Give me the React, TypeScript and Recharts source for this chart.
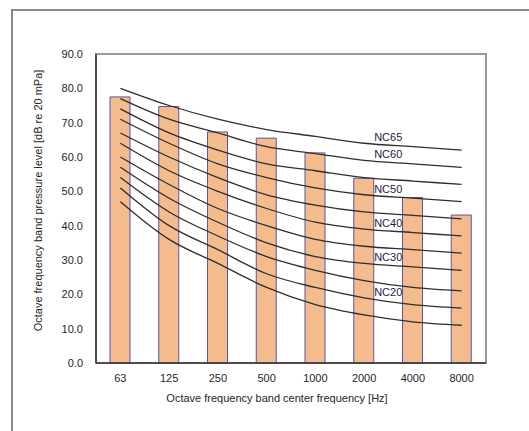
import React from 'react';
import { ComposedChart, Bar, Line, XAxis, YAxis, Label, LabelList, ReferenceArea } from 'recharts';

const frequencies = ['63', '125', '250', '500', '1000', '2000', '4000', '8000'];
const measured = [77.5, 74.7, 67.3, 65.5, 61.2, 53.8, 48.2, 43.1];

// NC curves (dB per octave band)
const nc15 = [47, 36, 29, 22, 17, 14, 12, 11];
const nc20 = [51, 40, 33, 26, 22, 19, 17, 16];
const nc25 = [54, 44, 37, 31, 27, 24, 22, 21];
const nc30 = [57, 48, 41, 35, 31, 29, 28, 27];
const nc35 = [60, 52, 45, 40, 36, 34, 33, 32];
const nc40 = [64, 56, 50, 45, 41, 39, 38, 37];
const nc45 = [67, 60, 54, 49, 46, 44, 43, 42];
const nc50 = [71, 64, 58, 54, 51, 49, 48, 47];
const nc55 = [74, 67, 62, 58, 56, 54, 53, 52];
const nc60 = [77, 71, 67, 63, 61, 59, 58, 57];
const nc65 = [80, 75, 71, 68, 66, 64, 63, 62];

const yTicks = [0, 10, 20, 30, 40, 50, 60, 70, 80, 90];

const curves = [
  { key: 'NC15', values: nc15, labeled: false },
  { key: 'NC20', values: nc20, labeled: true },
  { key: 'NC25', values: nc25, labeled: false },
  { key: 'NC30', values: nc30, labeled: true },
  { key: 'NC35', values: nc35, labeled: false },
  { key: 'NC40', values: nc40, labeled: true },
  { key: 'NC45', values: nc45, labeled: false },
  { key: 'NC50', values: nc50, labeled: true },
  { key: 'NC55', values: nc55, labeled: false },
  { key: 'NC60', values: nc60, labeled: true },
  { key: 'NC65', values: nc65, labeled: true },
];

const data = frequencies.map((f, i) => {
  const row: Record<string, string | number> = { freq: f, level: measured[i] };
  curves.forEach((c) => {
    row[c.key] = c.values[i];
  });
  return row;
});

const FONT = '"Liberation Sans", Arial, sans-serif';
const LABEL_INDEX = 5; // NC labels sit just right of the 2000 Hz band

const App: React.FC = () => {
  return (
    <div style={{
      position: 'absolute',
      left: 0,
      top: 0,
      width: 529,
      height: 431,
      overflow: 'hidden',
      background: '#ffffff',
      fontFamily: FONT
    }}>
      <div style={{
        position: 'absolute',
        left: 11,
        top: 9,
        width: 600,
        height: 500,
        borderTop: '2px solid #8a8a8a',
        borderLeft: '2px solid #8a8a8a'
      }} />
      <ComposedChart
        width={529}
        height={431}
        data={data}
        margin={{ top: 54, right: 43, bottom: 0, left: 0 }}
        style={{ position: 'absolute', left: 0, top: 0, fontFamily: FONT }}
      >
        {/* plot frame: gray top/right, axes draw the dark left/bottom */}
        <ReferenceArea
          y1={0}
          y2={90}
          fill="none"
          stroke="#9a9a9a"
          strokeWidth={2}
          fillOpacity={0}
        />
        <XAxis
          dataKey="freq"
          height={68}
          tickLine={false}
          tickSize={0}
          tickMargin={11}
          axisLine={{ stroke: '#333333', strokeWidth: 1.5 }}
          tick={{ fontSize: 11, fill: '#262626' }}
        >
          <Label
            content={({ viewBox }: any) => (
              <text
                x={viewBox.x + viewBox.width / 2 - 14}
                y={398}
                textAnchor="middle"
                dominantBaseline="central"
                fontSize={11}
                fill="#262626"
              >
                Octave frequency band center frequency [Hz]
              </text>
            )}
          />
        </XAxis>
        <YAxis
          width={96}
          domain={[0, 90]}
          ticks={yTicks}
          tickFormatter={(v: number) => v.toFixed(1)}
          tickLine={false}
          tickSize={0}
          tickMargin={13}
          axisLine={{ stroke: '#333333', strokeWidth: 1.5 }}
          tick={{ fontSize: 11, fill: '#262626' }}
        >
          <Label
            content={({ viewBox }: any) => {
              const cx = 38;
              const cy = viewBox.y + viewBox.height / 2 - 8;
              return (
                <text
                  x={cx}
                  y={cy}
                  transform={`rotate(-90, ${cx}, ${cy})`}
                  textAnchor="middle"
                  dominantBaseline="central"
                  fontSize={11}
                  fill="#262626"
                >
                  Octave frequency band pressure level [dB re 20 mPa]
                </text>
              );
            }}
          />
        </YAxis>
        <Bar
          dataKey="level"
          barSize={20}
          fill="#F4BC8C"
          stroke="#5B55A8"
          strokeWidth={1}
          isAnimationActive={false}
        />
        {curves.map((c) => (
          <Line
            key={c.key}
            dataKey={c.key}
            type="monotone"
            stroke="#2e2e2e"
            strokeWidth={1.3}
            dot={false}
            activeDot={false}
            isAnimationActive={false}
          >
            {c.labeled && (
              <LabelList
                dataKey={c.key}
                content={(props: any) =>
                  props.index === LABEL_INDEX ? (
                    <text
                      x={props.x + 10}
                      y={props.y - 2}
                      fontSize={11}
                      fill="#1c1c4a"
                    >
                      {c.key}
                    </text>
                  ) : null
                }
              />
            )}
          </Line>
        ))}
      </ComposedChart>
    </div>
  );
};

export default App;
